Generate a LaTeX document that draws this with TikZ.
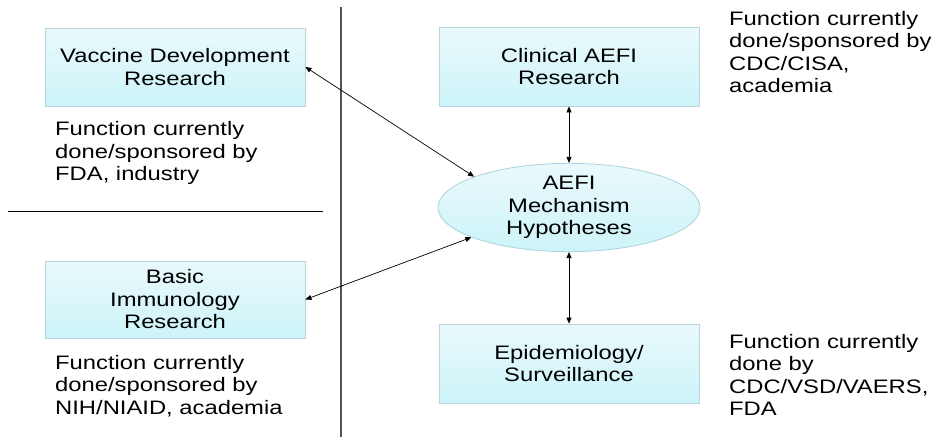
\documentclass[tikz,border=0pt]{standalone}
\usepackage{fontspec}
\setmainfont[FakeStretch=1.22]{Liberation Sans}
\usetikzlibrary{arrows.meta,shapes.geometric}
\definecolor{boxtop}{HTML}{EAF9FB}
\definecolor{boxbot}{HTML}{CCF4F9}
\definecolor{boxline}{HTML}{B7D5DD}
\definecolor{ellline}{HTML}{A9D3DD}
\definecolor{divgray}{HTML}{555555}
\tikzset{
  txt/.style={font=\fontsize{19.5}{22.5}\selectfont, text=black},
  fbox/.style={rectangle, draw=boxline, line width=0.8pt, top color=boxtop, bottom color=boxbot,
    minimum width=260pt, minimum height=78pt, inner sep=0pt, align=center, txt},
  fell/.style={ellipse, draw=ellline, line width=0.8pt, top color=boxtop, bottom color=boxbot,
    minimum width=262pt, minimum height=79pt, inner sep=0pt, align=center, txt},
  note/.style={align=left, inner sep=0pt, txt},
  link/.style={line width=0.7pt, black, {Triangle[length=6pt,width=5pt]}-{Triangle[length=6pt,width=5pt]}},
}
\begin{document}
\begin{tikzpicture}[x=1pt,y=-1pt]
\useasboundingbox (0,0) rectangle (934,437);
\draw[divgray, line width=1.2pt] (341,7) -- (341,437);
\draw[black, line width=0.8pt] (8,211) -- (323,211);

\node[fbox] (vdr) at (175,67) {Vaccine Development\\Research};
\node[fbox, minimum height=77pt] (bir) at (175,299.5) {Basic\\Immunology\\Research};
\node[fbox, minimum height=79pt] (car) at (569,66.5) {Clinical AEFI\\Research};
\node[fbox, minimum height=79pt] (epi) at (569,363.5) {Epidemiology/\\Surveillance};
\node[fell] (mech) at (569,207.5) {AEFI\\Mechanism\\Hypotheses};

\node[note, anchor=west] (n1) at (55,153) {Function currently\\done/sponsored by\\FDA, industry};
\node[note, anchor=west] (n2) at (55,386) {Function currently\\done/sponsored by\\NIH/NIAID, academia};
\node[note, anchor=west] (n3) at (729,52) {Function currently\\done/sponsored by\\CDC/CISA,\\academia};
\node[note, anchor=west] (n4) at (729,375) {Function currently\\done by\\CDC/VSD/VAERS,\\FDA};

\draw[link] (vdr.east) -- (mech.162);
\draw[link] (bir.east) -- (mech.197);
\draw[link] (car.south) -- (mech.north);
\draw[link] (mech.south) -- (epi.north);
\end{tikzpicture}
\end{document}
